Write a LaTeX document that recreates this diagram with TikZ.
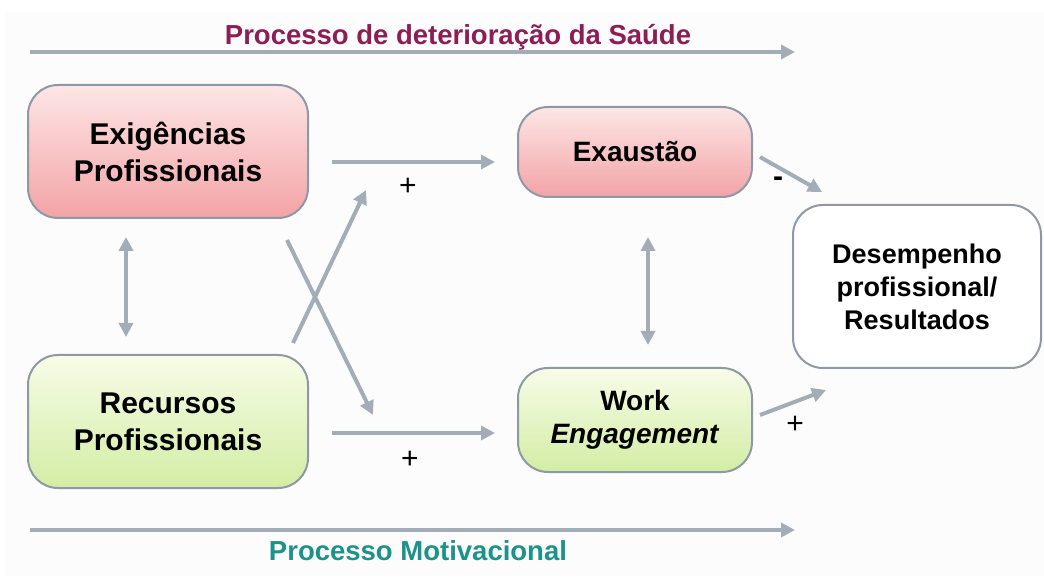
\documentclass[tikz,border=0pt]{standalone}
\usepackage{fontspec}
\setmainfont{Liberation Sans}
\usepackage{tikz}
\usepackage{xcolor}
\usetikzlibrary{positioning,arrows.meta}

\definecolor{arrgray}{HTML}{A3ADB8}
\definecolor{boxline}{HTML}{8E99A5}
\definecolor{pinktop}{HTML}{FDE6E6}
\definecolor{pinkbot}{HTML}{F3A3A6}
\definecolor{greentop}{HTML}{F7FCE8}
\definecolor{greenbot}{HTML}{D3EDA4}
\definecolor{maroon}{HTML}{8E1D56}
\definecolor{teal}{HTML}{1B938A}

\tikzset{
  box/.style={draw=boxline, line width=2pt, rounded corners=30pt, align=center,
              font=\bfseries\fontsize{28}{33}\selectfont},
  redbox/.style={box, top color=pinktop, bottom color=pinkbot},
  greenbox/.style={box, top color=greentop, bottom color=greenbot},
  arr/.style={draw=arrgray, line width=4pt, -{Triangle[width=14pt,length=14pt]}},
  darr/.style={draw=arrgray, line width=4pt, {Triangle[width=14pt,length=14pt]}-{Triangle[width=14pt,length=14pt]}},
  sign/.style={font=\fontsize{30}{30}\selectfont},
}

\begin{document}
\begin{tikzpicture}[x=1pt, y=1pt]
      \useasboundingbox (0,0) rectangle (1044,576);
      \fill [white] (0,0) rectangle (1044,576);
      \fill [black!1] (5,0) rectangle (1044,564);
      % boxes
      \node [redbox, minimum width=280pt, minimum height=133pt,
             font=\bfseries\fontsize{30}{37}\selectfont]   (ex) at (168, 424.5) {Exigências\\Profissionais};
      \node [greenbox, minimum width=280pt, minimum height=133pt,
             font=\bfseries\fontsize{30}{37}\selectfont]   (re) at (168, 154.5) {Recursos\\Profissionais};
      \node [redbox, minimum width=234pt, minimum height=90pt]  (ea) at (635, 424) {Exaustão};
      \node [greenbox, minimum width=234pt, minimum height=104pt] (we) at (635, 156) {Work\\\textit{Engagement}};
      \node [box, fill=white, minimum width=248pt, minimum height=163pt,
             font=\bfseries\fontsize{27}{33}\selectfont]   (dp) at (917, 289.5) {Desempenho\\profissional/\\Resultados};
      % process titles
      \node [text=maroon, font=\bfseries\fontsize{27.5}{30}\selectfont] (tt) at (458, 539) {Processo de deterioração da Saúde};
      \node [text=teal, font=\bfseries\fontsize{27.5}{30}\selectfont]   (tb) at (418, 25) {Processo Motivacional};
      % arrow ends
      \coordinate (ta) at ( 30, 524);  \coordinate (tz) at (795, 524);
      \coordinate (ba) at ( 30,  46);  \coordinate (bz) at (795,  46);
      \coordinate (h1a) at (332, 414); \coordinate (h1z) at (495, 414);
      \coordinate (h2a) at (332, 143); \coordinate (h2z) at (495, 143);
      \coordinate (c1a) at (293, 233); \coordinate (c1z) at (366, 386);
      \coordinate (c2a) at (287, 336); \coordinate (c2z) at (373, 161);
      \coordinate (v1a) at (126, 339); \coordinate (v1z) at (126, 239);
      \coordinate (v2a) at (648, 339); \coordinate (v2z) at (648, 231);
      \coordinate (d1a) at (760, 419); \coordinate (d1z) at (822, 384);
      \coordinate (d2a) at (760, 161); \coordinate (d2z) at (826, 186);
      % arrows
      \draw [arr]  (ta) -- (tz);
      \draw [arr]  (ba) -- (bz);
      \draw [arr]  (h1a) -- (h1z);
      \draw [arr]  (h2a) -- (h2z);
      \draw [arr]  (c1a) -- (c1z);
      \draw [arr]  (c2a) -- (c2z);
      \draw [darr] (v1a) -- (v1z);
      \draw [darr] (v2a) -- (v2z);
      \draw [arr]  (d1a) -- (d1z);
      \draw [arr]  (d2a) -- (d2z);
      % signs
      \node [sign] (p1) at (408, 389) {+};
      \node [sign] (p2) at (410, 116) {+};
      \node [sign, font=\bfseries\fontsize{30}{30}\selectfont] (m3) at (778, 394) {-};
      \node [sign] (p4) at (795, 151) {+};
\end{tikzpicture}
\end{document}
